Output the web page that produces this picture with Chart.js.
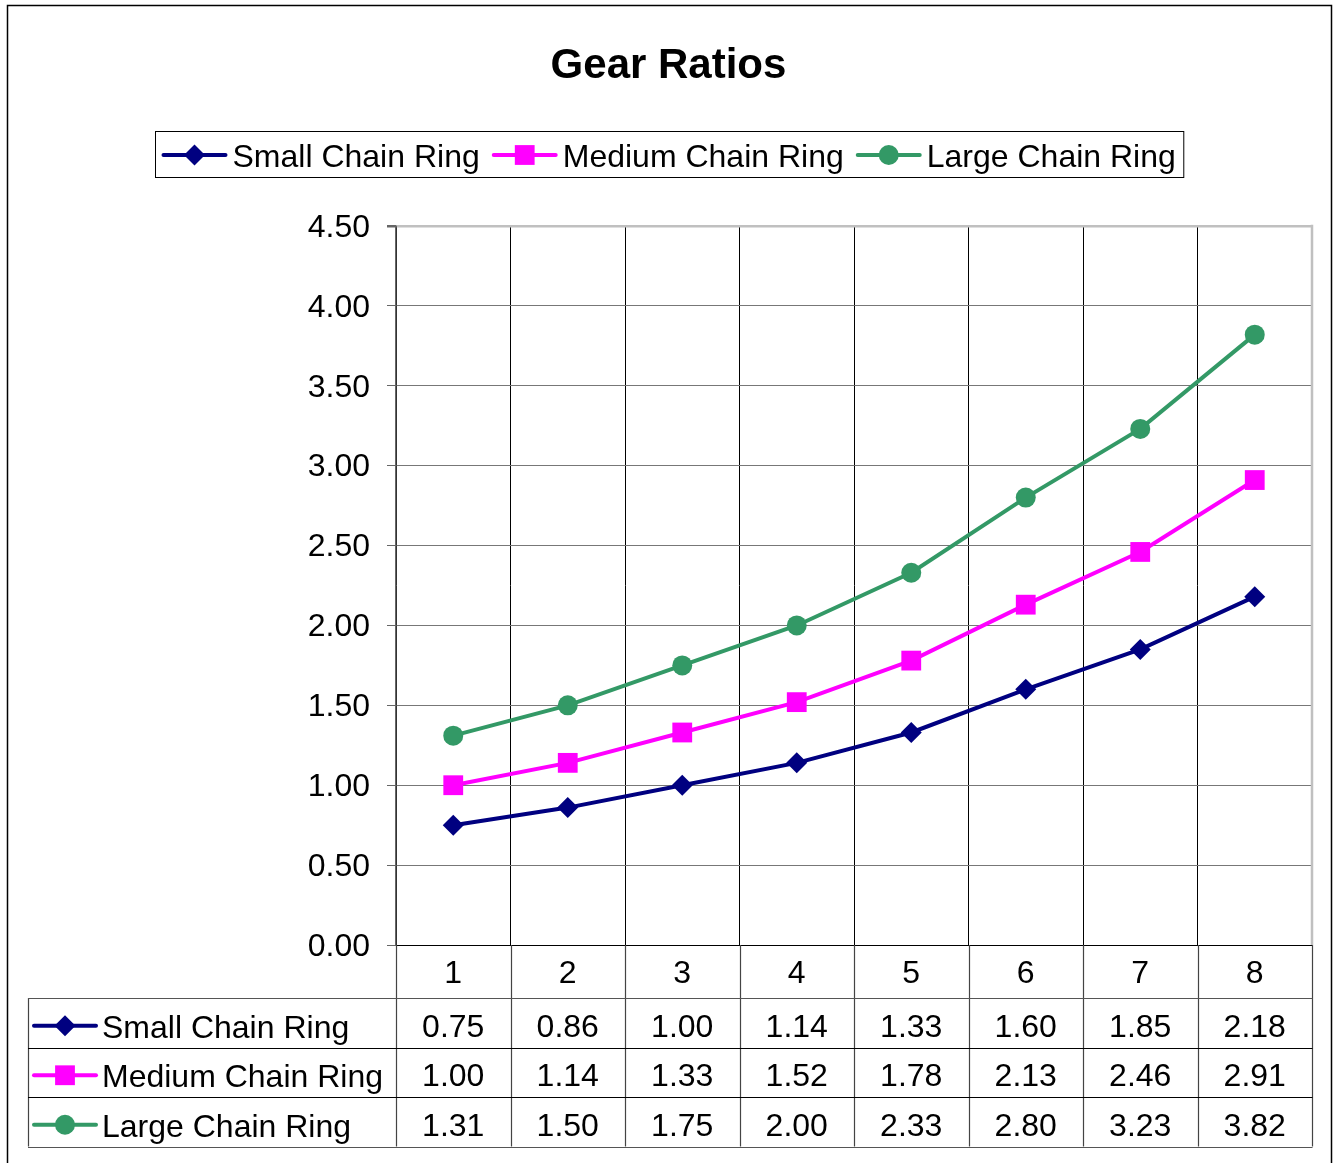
<!DOCTYPE html>
<html>
<head>
<meta charset="utf-8">
<title>Gear Ratios</title>
<script src="https://cdn.jsdelivr.net/npm/chart.js@4.4.1/dist/chart.umd.min.js"></script>
<style>
  html, body { margin: 0; padding: 0; background: #fff; }
  #wrap { width: 1337px; height: 1163px; }
</style>
</head>
<body>
<div id="wrap"><canvas id="gearChart" width="1337" height="1163"></canvas></div>
<script>
// Gear numbers along the x axis
const categories = ['1', '2', '3', '4', '5', '6', '7', '8'];
// Ratios for each chain ring
const smallRing  = [0.75, 0.86, 1.00, 1.14, 1.33, 1.60, 1.85, 2.18];
const mediumRing = [1.00, 1.14, 1.33, 1.52, 1.78, 2.13, 2.46, 2.91];
const largeRing  = [1.31, 1.50, 1.75, 2.00, 2.33, 2.80, 3.23, 3.82];
const seriesNames = ['Small Chain Ring', 'Medium Chain Ring', 'Large Chain Ring'];
// Value axis range
const yMin = 0, yMax = 4.5, yStep = 0.5;

const FONT = "'Liberation Sans', Arial, Helvetica, sans-serif";
const TEXT_SIZE = 32;

function drawKey(ctx, ds, x0, y, len) {
  ctx.save();
  ctx.strokeStyle = ds.borderColor;
  ctx.lineWidth = ds.borderWidth;
  ctx.lineCap = 'round';
  ctx.beginPath();
  ctx.moveTo(x0, y);
  ctx.lineTo(x0 + len, y);
  ctx.stroke();
  ctx.fillStyle = ds.backgroundColor;
  ctx.strokeStyle = ds.borderColor;
  Chart.helpers.drawPoint(ctx, {
    pointStyle: ds.pointStyle, radius: ds.pointRadius, rotation: 0, borderWidth: 0
  }, x0 + len / 2, y);
  ctx.restore();
}

// Outer frame, plot border, legend box and data table
const decorations = {
  id: 'decorations',
  beforeDraw(chart) {
    const ctx = chart.ctx;
    ctx.save();
    ctx.fillStyle = '#fff';
    ctx.fillRect(0, 0, chart.width, chart.height);
    ctx.strokeStyle = '#000';
    ctx.lineWidth = 1.5;
    ctx.strokeRect(7.5, 5.5, 1324, 1200);
    ctx.restore();
  },
  beforeDatasetsDraw(chart) {
    const { ctx, chartArea: a } = chart;
    ctx.save();
    ctx.strokeStyle = '#c0c0c0';
    ctx.lineWidth = 2.5;
    ctx.beginPath();
    ctx.moveTo(a.right, a.top - 1.2);
    ctx.lineTo(a.right, a.bottom);
    ctx.stroke();
    ctx.restore();
  },
  afterDraw(chart) {
    const { ctx, chartArea: a } = chart;
    const xs = chart.scales.x;
    const sets = chart.data.datasets;
    ctx.save();
    ctx.font = TEXT_SIZE + 'px ' + FONT;
    ctx.fillStyle = '#000';
    ctx.textBaseline = 'middle';

    // Legend
    const keyLen = 62, keyGap = 7, itemGap = 14, pad = 8;
    const widths = sets.map(d => ctx.measureText(d.label).width);
    const total = widths.reduce((s, w) => s + w + keyLen + keyGap, 0) + itemGap * (sets.length - 1);
    const boxW = total + pad * 2;
    const boxX = Math.round(chart.width / 2 - boxW / 2 + 0.5) + 0.5;
    const boxY = 131.5, boxH = 46, legY = 155;
    ctx.strokeStyle = '#000';
    ctx.lineWidth = 1;
    ctx.strokeRect(boxX, boxY, boxW, boxH);
    let lx = boxX + pad;
    sets.forEach((d, i) => {
      drawKey(ctx, d, lx, legY, keyLen);
      lx += keyLen + keyGap;
      ctx.textAlign = 'left';
      ctx.fillStyle = '#000';
      ctx.fillText(d.label, lx, legY + 3);
      lx += widths[i] + itemGap;
    });

    // Data table
    const n = categories.length;
    const colW = xs.width / n;
    const tableLeft = 28;
    const headTop = a.bottom, headBottom = a.bottom + 53, rowH = 49.5;
    const tableBottom = headBottom + rowH * sets.length;
    const firstEdge = xs.getPixelForValue(0) - colW / 2;

    ctx.lineWidth = 1.2;
    ctx.strokeStyle = '#444';
    for (let i = 0; i <= n; i++) {
      const bx = Math.round(firstEdge + i * colW) + 0.5;
      ctx.beginPath();
      ctx.moveTo(bx, headTop);
      ctx.lineTo(bx, tableBottom);
      ctx.stroke();
    }
    ctx.beginPath();
    ctx.moveTo(tableLeft + 0.5, headBottom);
    ctx.lineTo(tableLeft + 0.5, tableBottom);
    ctx.stroke();
    for (let r = 0; r <= sets.length; r++) {
      const hy = Math.round(headBottom + r * rowH) + 0.5;
      ctx.strokeStyle = (r === 0 || r === sets.length) ? '#555' : '#000';
      ctx.beginPath();
      ctx.moveTo(tableLeft, hy);
      ctx.lineTo(a.right + 0.5, hy);
      ctx.stroke();
    }

    ctx.fillStyle = '#000';
    ctx.textAlign = 'center';
    categories.forEach((c, i) => {
      ctx.fillText(c, xs.getPixelForValue(i), (headTop + headBottom) / 2 + 3);
    });
    sets.forEach((d, r) => {
      const cy = headBottom + rowH * (r + 0.5);
      drawKey(ctx, d, 34, cy + 3, 62);
      ctx.fillStyle = '#000';
      ctx.textAlign = 'left';
      ctx.fillText(d.label, 102, cy + 6);
      ctx.textAlign = 'center';
      d.data.forEach((v, i) => {
        ctx.fillText(v.toFixed(2), xs.getPixelForValue(i), cy + 5);
      });
    });
    ctx.restore();
  }
};

new Chart(document.getElementById('gearChart'), {
  type: 'line',
  data: {
    labels: categories,
    datasets: [
      { label: seriesNames[0], data: smallRing, borderColor: '#000080', backgroundColor: '#000080',
        borderWidth: 4, pointStyle: 'rectRot', pointRadius: 10.5, pointHoverRadius: 10.5, pointBorderWidth: 0 },
      { label: seriesNames[1], data: mediumRing, borderColor: '#ff00ff', backgroundColor: '#ff00ff',
        borderWidth: 4, pointStyle: 'rect', pointRadius: 14, pointHoverRadius: 14, pointBorderWidth: 0 },
      { label: seriesNames[2], data: largeRing, borderColor: '#339966', backgroundColor: '#339966',
        borderWidth: 4, pointStyle: 'circle', pointRadius: 10, pointHoverRadius: 10, pointBorderWidth: 0 }
    ]
  },
  options: {
    responsive: false,
    animation: false,
    events: [],
    layout: { padding: { top: 0, right: 25, bottom: 218, left: 25 } },
    plugins: {
      legend: { display: false },
      tooltip: { enabled: false },
      title: {
        display: true,
        text: 'Gear Ratios',
        color: '#000',
        font: { family: FONT, size: 42, weight: 'bold', lineHeight: 1.2 },
        padding: { top: 41, bottom: 134.6 }
      }
    },
    scales: {
      x: {
        type: 'category',
        offset: true,
        grid: {
          offset: true,
          drawTicks: false,
          color: c => (c.index === categories.length ? '#c0c0c0' : '#000'),
          lineWidth: 1
        },
        border: { display: true, color: '#000', width: 1 },
        ticks: { display: false },
        afterFit: s => { s.height = 0; }
      },
      y: {
        min: yMin,
        max: yMax,
        grid: {
          color: c => (c.tick && c.tick.value === yMax ? '#c0c0c0' : (c.tick && c.tick.value === yMin ? '#000' : '#777')),
          lineWidth: c => (c.tick && c.tick.value === yMax ? 2.5 : 1),
          tickColor: '#666',
          tickLength: 9,
          drawTicks: true
        },
        border: { display: true, color: '#666', width: 1.5 },
        ticks: {
          stepSize: yStep,
          padding: 17,
          labelOffset: 2,
          color: '#000',
          font: { family: FONT, size: TEXT_SIZE },
          callback: v => Number(v).toFixed(2)
        },
        afterFit: s => { s.width = 371; }
      }
    }
  },
  plugins: [decorations]
});
</script>
</body>
</html>
